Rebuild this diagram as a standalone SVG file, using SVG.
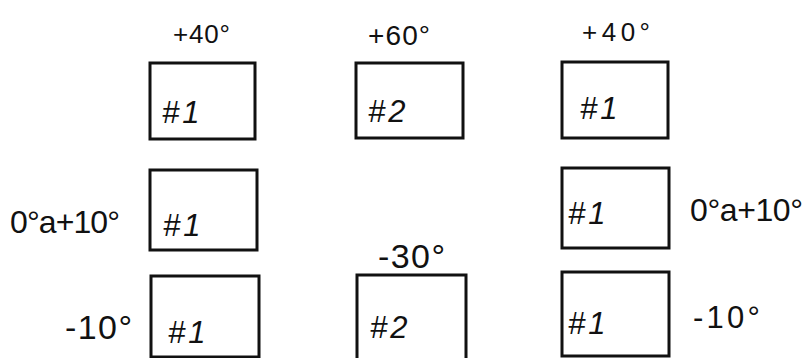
<svg xmlns="http://www.w3.org/2000/svg" width="804" height="358" viewBox="0 0 804 358">
<style>
.box{fill:none;stroke:#111;stroke-width:3}
text{font-family:"Liberation Sans","DejaVu Sans",sans-serif;fill:#111}
.ang{font-size:26px}
.big{font-size:32px}
.lbl{font-size:31px;letter-spacing:3px;font-style:italic}
</style>
<rect width="804" height="358" fill="#fff"/>
<g id="connectors"></g>
<g id="n1"><rect class="box" x="150" y="63" width="105" height="76"/><text class="lbl" x="162" y="123">#1</text></g>
<g id="n2"><rect class="box" x="356" y="63" width="107" height="75"/><text class="lbl" x="368" y="122">#2</text></g>
<g id="n3"><rect class="box" x="562" y="62" width="106" height="76"/><text class="lbl" x="580" y="119">#1</text></g>
<g id="n4"><rect class="box" x="150" y="170" width="107" height="80"/><text class="lbl" x="163" y="236">#1</text></g>
<g id="n5"><rect class="box" x="562" y="168" width="107" height="80"/><text class="lbl" x="568" y="224">#1</text></g>
<g id="n6"><rect class="box" x="151" y="276" width="108" height="81"/><text class="lbl" x="168" y="343">#1</text></g>
<g id="n7"><rect class="box" x="357" y="275" width="109" height="90"/><text class="lbl" x="370" y="338">#2</text></g>
<g id="n8"><rect class="box" x="562" y="272" width="107" height="84"/><text class="lbl" x="568" y="334">#1</text></g>
<g id="labels">
<text class="ang" x="173" y="43" textLength="57">+40°</text>
<text class="ang" x="368" y="45" textLength="62" style="font-size:28px">+60°</text>
<text class="ang" x="582" y="41" textLength="68">+40°</text>
<text class="big" x="10" y="233" textLength="110">0°a+10°</text>
<text class="big" x="690" y="221" textLength="113">0°a+10°</text>
<text class="big" x="378" y="268" textLength="67" style="font-size:34px">-30°</text>
<text class="big" x="65" y="339" textLength="67" style="font-size:34px">-10°</text>
<text class="big" x="693" y="328" textLength="67" style="font-size:31px">-10°</text>
</g>
</svg>
